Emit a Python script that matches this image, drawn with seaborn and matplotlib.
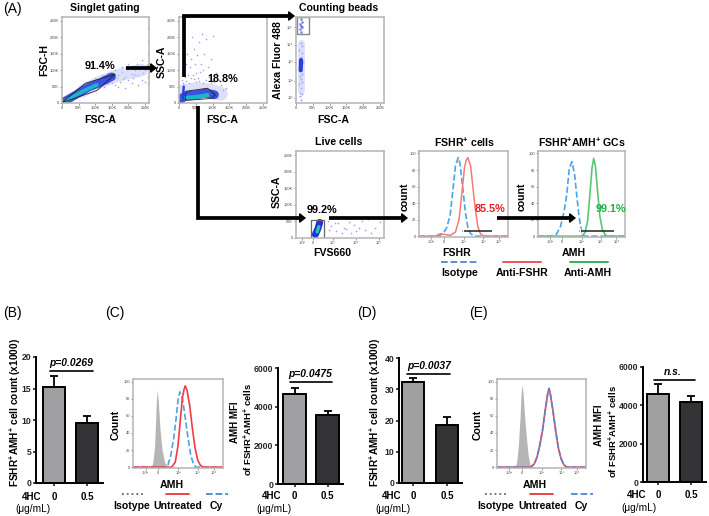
import matplotlib
matplotlib.use("Agg")
import matplotlib.pyplot as plt
import seaborn as sns

sns.set_style("white")
plt.rcParams['font.family'] = ['Liberation Sans', 'DejaVu Sans']
plt.rcParams['mathtext.fontset'] = 'custom'
plt.rcParams['mathtext.rm'] = 'Liberation Sans:bold'
plt.rcParams['mathtext.default'] = 'rm'

W, H = 709, 516
fig = plt.figure(figsize=(W / 100, H / 100), dpi=100, facecolor='white')

# ---------- data ----------
groups = ['0', '0.5']
b_vals, b_tops = [15.3, 9.5], [17.0, 10.7]
c_vals, c_tops = [4650, 3550], [4980, 3800]
d_vals, d_tops = [32.2, 18.5], [33.5, 21.2]
e_vals, e_tops = [4580, 4180], [5100, 4500]

# histogram curves (x: % of axis width, y: % of max)
fshr_iso_x = [0, 22, 27, 31, 35, 38, 41, 44, 46, 49, 52, 55, 58, 62, 100]
fshr_iso_y = [0, 0, 3, 10, 25, 55, 85, 95, 88, 60, 30, 10, 3, 0, 0]
fshr_anti_x = [0, 18, 24, 29, 35, 41, 45, 48, 51, 53, 55, 58, 60, 63, 66, 69, 73, 100]
fshr_anti_y = [0, 0, 3, 2, 1, 5, 20, 50, 82, 92, 95, 85, 65, 35, 12, 3, 0, 0]
amh_iso_x = [0, 14, 21, 26, 30, 33, 36, 39, 42, 44, 47, 50, 53, 100]
amh_iso_y = [0, 0, 2, 12, 30, 50, 82, 90, 75, 55, 25, 6, 0, 0]
amh_anti_x = [0, 50, 54, 57, 60, 62, 64, 66, 68, 71, 74, 77, 80, 100]
amh_anti_y = [0, 0, 4, 18, 55, 82, 94, 85, 60, 25, 8, 2, 0, 0]

c_iso_x = [0, 20, 22, 24, 25, 26, 27, 28, 30, 32, 35, 38, 100]
c_iso_y = [0, 0, 5, 25, 50, 78, 90, 78, 45, 22, 6, 0, 0]
c_cy_x = [0, 36, 39, 42, 45, 48, 50, 52, 55, 58, 61, 64, 67, 70, 100]
c_cy_y = [0, 0, 3, 14, 32, 58, 78, 88, 80, 58, 35, 15, 4, 0, 0]
c_unt_x = [0, 43, 47, 50, 53, 55, 57, 58, 60, 63, 66, 69, 72, 75, 78, 100]
c_unt_y = [0, 0, 6, 25, 60, 82, 92, 95, 90, 72, 45, 22, 8, 2, 0, 0]
e_iso_x = [0, 20, 22, 24, 26, 27, 28, 29, 31, 33, 35, 37, 40, 100]
e_iso_y = [0, 0, 5, 25, 60, 85, 96, 90, 60, 35, 14, 3, 0, 0]
e_unt_x = [0, 38, 42, 45, 48, 51, 54, 57, 58.5, 60, 63, 66, 69, 72, 75, 78, 100]
e_unt_y = [0, 0, 4, 12, 25, 42, 65, 86, 92, 85, 65, 42, 22, 10, 3, 0, 0]

# flow plots: sparse events and dense centre lines
s1_x = [95, 110, 125, 130, 140, 150, 155, 160, 165, 170, 175, 180, 185, 190, 195, 200, 205, 210, 215,
        220, 225, 230, 235, 240, 245, 250, 255, 258, 100, 120, 140, 160, 180, 200, 220, 240, 170, 190,
        210, 230, 250, 258, 258, 258, 258, 258]
s1_y = [45, 55, 50, 78, 60, 60, 90, 55, 75, 85, 65, 95, 72, 80, 105, 70, 110, 88, 75, 100, 120, 85,
        105, 130, 90, 100, 115, 80, 75, 85, 92, 100, 110, 118, 85, 70, 50, 45, 60, 55, 65, 150, 190,
        230, 120, 60]
s1_haze_x = [60, 110, 170, 240]
s1_haze_y = [35, 62, 85, 100]
s1_line_x = [2, 40, 80, 115, 150]
s1_line_y = [2, 24, 48, 62, 80]
s1_core_x = [2, 35, 75, 105]
s1_core_y = [2, 20, 42, 55]
s2_x = [10, 15, 20, 25, 28, 32, 35, 40, 45, 48, 52, 55, 60, 65, 68, 72, 75, 80, 85, 90, 95, 100,
        105, 110, 120, 125, 130, 140, 35, 50, 60, 70, 30, 42, 58, 22, 18, 62, 45, 80, 95, 115, 8, 12]
s2_y = [70, 95, 120, 150, 85, 110, 135, 200, 165, 120, 90, 145, 185, 120, 210, 100, 150, 195, 110,
        80, 135, 205, 65, 90, 70, 55, 40, 45, 75, 65, 68, 60, 60, 85, 75, 68, 78, 95, 72, 70, 62, 30, 90, 62]
s2_haze_x = [8, 50, 95, 125]
s2_haze_y = [35, 42, 38, 28]
s2_line_x = [5, 20, 50, 80, 105]
s2_line_y = [12, 22, 25, 30, 25]
s2_core_x = [20, 50, 85]
s2_core_y = [16, 18, 24]
s3_x = [8, 10, 12, 14, 16, 18, 20, 12, 15, 17, 9, 13, 16, 19, 11, 14, 18, 15, 12, 17]
s3_y = [50, 62, 40, 28, 18, 34, 48, 8, 70, 58, 22, 12, 4, 66, 31, 54, 11, 42, 46, 24]
s3_haze_x = [14, 14]
s3_haze_y = [15, 70]
s3_line_x = [14, 15]
s3_line_y = [38, 50]
s3_top_x = [13, 15, 17, 14, 16, 12, 18]
s3_top_y = [86, 90, 94, 82, 98, 92, 88]
s4_x = [36, 40, 45, 48, 55, 60, 62, 66, 68, 72, 75, 78, 82, 85, 90, 95, 38, 44, 52, 57]
s4_y = [20, 14, 8, 17, 12, 18, 6, 15, 8, 12, 19, 9, 22, 6, 12, 18, 9, 17, 6, 10]
s4_line_x = [22, 25, 27]
s4_line_y = [4, 11, 18]
s4_core_x = [24, 26]
s4_core_y = [7, 13]

# ---------- helpers ----------
def ax_px(x0, y0, x1, y1, **kw):
    return fig.add_axes([x0 / W, 1 - y1 / H, (x1 - x0) / W, (y1 - y0) / H], **kw)

def style_box(ax, xt, xl, yt, yl):
    ax.set_xticks(xt, xl)
    ax.set_yticks(yt, yl)
    ax.tick_params(length=1.5, width=0.4, labelsize=2.8, pad=0.6, colors='#444444', left=True, bottom=True)
    for s in ax.spines.values():
        s.set_color('#b4b4b4')
        s.set_linewidth(1.1)
    ax.set_xlabel('')
    ax.set_ylabel('')

def line(ax, x, y, **kw):
    sns.lineplot(x=x, y=y, sort=False, estimator=None, ax=ax, legend=False, **kw)

def dots(ax, x, y, color='#5a64e6', s=1.3):
    sns.scatterplot(x=x, y=y, ax=ax, color=color, s=s, linewidth=0, alpha=0.6, legend=False)

lin_t = [0, 50, 100, 150, 200, 250]
lin_l = ['0', '50K', '100K', '150K', '200K', '250K']
log_t = [14, 28, 50, 72, 90]
log_l = ['-10²', '0', '10²', '10³', '10⁴']

def flow(box, hx, hy, hw, sx, sy, lx, ly, cx, cy, w1=5, w2=2.2):
    ax = ax_px(*box)
    line(ax, hx, hy, color='#b4bbf4', lw=hw, alpha=0.45)
    dots(ax, sx, sy)
    line(ax, lx, ly, color='#2a40e0', lw=w1, alpha=0.9)
    line(ax, cx, cy, color='#18b8c8', lw=w2)
    ax.set_xlim(0, 262)
    ax.set_ylim(0, 262)
    style_box(ax, lin_t, lin_l, lin_t, lin_l)
    return ax

# ---------- flow panels ----------
a1 = flow((62, 17, 149, 103), s1_haze_x, s1_haze_y, 9, s1_x, s1_y, s1_line_x, s1_line_y, s1_core_x, s1_core_y, 6, 2.6)
line(a1, s1_core_x[:1] + [70, 160, 105, 2], [3, 60, 88, 38, 2], color='#222222', lw=0.6)
a2 = flow((179, 17, 267, 103), s2_haze_x, s2_haze_y, 10, s2_x, s2_y, s2_line_x, s2_line_y, s2_core_x, s2_core_y, 6.5, 3)
line(a2, [18, 22, 85, 108, 98, 22, 18], [12, 36, 45, 25, 14, 8, 12], color='#222222', lw=0.6)
line(a2, [12, 14], [12, 50], color='#2a3fe0', lw=1.8)

a3 = ax_px(296, 17, 384, 103)
line(a3, s3_haze_x, s3_haze_y, color='#b4bbf4', lw=5, alpha=0.45)
dots(a3, s3_x, s3_y, s=2)
dots(a3, s3_top_x, s3_top_y, color='#1f35d8', s=3.5)
line(a3, s3_line_x, s3_line_y, color='#2a3fe0', lw=3)
a3.set_xlim(0, 262)
a3.set_ylim(0, 100)
style_box(a3, lin_t, lin_l, [6, 26, 48, 68, 88], ['10¹', '10²', '10³', '10⁴', '10⁵'])
line(a3, [2, 38, 38, 2, 2], [80, 80, 100, 100, 80], color='#888888', lw=1)

a4 = ax_px(296, 151, 384, 238)
dots(a4, s4_x, s4_y, s=1.5)
line(a4, s4_line_x, s4_line_y, color='#1f35d8', lw=5)
line(a4, s4_core_x, s4_core_y, color='#1fc8a8', lw=2.4)
a4.set_xlim(0, 100)
a4.set_ylim(0, 100)
style_box(a4, [7, 19, 42, 68, 94], ['-10³', '0', '10³', '10⁴', '10⁵'],
          [0, 19, 38, 57, 76, 95], lin_l)
line(a4, [17, 32, 32, 17, 17], [0, 0, 21, 21, 0], color='#666666', lw=0.9)

pct_t = [0, 20, 40, 60, 80, 100]
pct_l = ['0', '20', '40', '60', '80', '100']

def hist_box(box, top=103):
    ax = ax_px(*box)
    ax.set_xlim(0, 100)
    ax.set_ylim(-1, top)
    style_box(ax, log_t, log_l, pct_t, pct_l)
    return ax

h1 = hist_box((419, 151, 508, 237))
line(h1, fshr_iso_x, fshr_iso_y, color='#4da3ea', lw=1.2, linestyle='--')
line(h1, fshr_anti_x, fshr_anti_y, color='#f47a7a', lw=1.1)
line(h1, [49, 82], [6, 6], color='#222222', lw=1.1, marker='|', markersize=4)

h2 = hist_box((538, 151, 625, 237))
line(h2, amh_iso_x, amh_iso_y, color='#4da3ea', lw=1.2, linestyle='--')
line(h2, amh_anti_x, amh_anti_y, color='#58c878', lw=1.2)
line(h2, [48, 87], [6, 6], color='#222222', lw=1.1, marker='|', markersize=4)

h3 = hist_box((133, 379, 223, 468))
h3.fill_between(c_iso_x, c_iso_y, color='#b5b5b5', lw=0)
line(h3, c_cy_x, c_cy_y, color='#4da3ea', lw=1.2, linestyle='--')
line(h3, c_unt_x, c_unt_y, color='#f03c46', lw=1.2)

h4 = hist_box((497, 379, 586, 468))
h4.fill_between(e_iso_x, e_iso_y, color='#b5b5b5', lw=0)
line(h4, e_unt_x, e_unt_y, color='#f2555f', lw=1.3)
line(h4, e_unt_x, e_unt_y, color='#4d86d8', lw=1.1, linestyle='--')

# ---------- bar panels ----------
def bars(box, c0, sp, vals, tops, ymax, yticks):
    ax = ax_px(*box)
    sns.barplot(x=groups, y=vals, hue=groups, palette=['#a0a0a2', '#333335'], width=0.67,
                edgecolor='black', linewidth=1.4, ax=ax, legend=False, dodge=False)
    for i, (v, t) in enumerate(zip(vals, tops)):
        ax.errorbar(i, v, yerr=[[0], [t - v]], color='black', capsize=3.2, capthick=1.3, elinewidth=1.3)
    ax.set_xlim((box[0] - c0) / sp, (box[2] - c0) / sp)
    ax.set_ylim(0, ymax)
    ax.set_yticks(yticks)
    ax.set_xticks([0, 1], ['', ''])
    ax.tick_params(left=True, bottom=True, length=2.5, width=1.2, pad=1)
    for t in ax.get_yticklabels():
        t.set_fontsize(6.2)
        t.set_fontweight('bold')
    sns.despine(ax=ax)
    for s in ('left', 'bottom'):
        ax.spines[s].set_linewidth(1.4)
        ax.spines[s].set_color('black')
    ax.patch.set_alpha(0)
    ax.set_ylabel('')
    return ax

bars((36, 357, 103, 483), 54, 33, b_vals, b_tops, 20, [0, 5, 10, 15, 20])
bars((278, 368, 343, 484), 294.5, 33, c_vals, c_tops, 6000, [0, 2000, 4000, 6000])
bars((399, 358, 462, 483), 413, 34, d_vals, d_tops, 40, [0, 10, 20, 30, 40])
bars((643, 367, 706, 482), 658, 33, e_vals, e_tops, 6000, [0, 2000, 4000, 6000])

# ---------- overlay: text and arrows in pixel units ----------
ov = fig.add_axes([0, 0, 1, 1], zorder=10)
ov.set_xlim(0, W)
ov.set_ylim(H, 0)
ov.axis('off')

def T(x, y, s, size=7.6, weight='bold', color='black', rot=0, style='normal', ha='center'):
    ov.text(x, y, s, fontsize=size, fontweight=weight, color=color, rotation=rot, fontstyle=style,
            ha=ha, va='center')

def arrow(pts):
    xs = [p[0] for p in pts]
    ys = [p[1] for p in pts]
    ov.plot(xs[:-1] + [xs[-1] - 3], ys, color='black', lw=2.7, solid_joinstyle='miter', solid_capstyle='butt')
    ov.annotate('', xy=pts[-1], xytext=(pts[-1][0] - 6, pts[-1][1]),
                arrowprops=dict(arrowstyle='-|>,head_length=0.35,head_width=0.28', color='black', lw=1.2, shrinkA=0, shrinkB=0))

arrow([(126, 68), (157, 68)])
arrow([(184, 77), (184, 16), (295, 16)])
arrow([(198, 106), (198, 218), (306, 218)])
arrow([(329, 218), (408, 218)])
arrow([(497, 218), (576, 218)])

for x, y, s in [(3, 9, '(A)'), (3, 313, '(B)'), (105, 313, '(C)'), (357, 313, '(D)'), (469, 313, '(E)')]:
    T(x, y, s, size=10, weight='normal', ha='left')

T(105, 8, 'Singlet gating')
T(339, 8, 'Counting beads')
T(44, 60, 'FSC-H', rot=90)
T(100, 120, 'FSC-A')
T(100, 66, '91.4%', size=7.8)
T(162, 62, 'SSC-A', rot=90)
T(223, 79, '18.8%', size=7.8)
T(222, 120, 'FSC-A')
T(278, 60, 'Alexa Fluor 488', rot=90)
T(333, 120, 'FSC-A')

T(339, 142, 'Live cells')
T(465, 142, 'FSHR$^{+}$ cells')
T(582, 142, 'FSHR$^{+}$AMH$^{+}$ GCs')
T(277, 192, 'SSC-A', rot=90)
T(322, 210, '99.2%', size=7.8)
T(332, 253, 'FVS660')
T(405, 197, 'count', rot=90)
T(522, 197, 'count', rot=90)
T(490, 209, '85.5%', size=7.8, color='#f01c1c')
T(611, 209, '99.1%', size=7.8, color='#22b04a')
T(457, 253, 'FSHR')
T(574, 253, 'AMH')
ov.plot([441, 479], [262, 262], color='#4d86d8', lw=1.3, linestyle='--')
ov.plot([503, 541], [262, 262], color='#f0505a', lw=1.4)
ov.plot([570, 608], [262, 262], color='#35b060', lw=1.4)
T(460, 273, 'Isotype')
T(522, 273, 'Anti-FSHR')
T(588, 273, 'Anti-AMH')

ylab = 'FSHR$^{+}$AMH$^{+}$ cell count (x1000)'
ylab2 = 'of FSHR$^{+}$AMH$^{+}$ cells'
T(15, 413, ylab, rot=90, size=7.3)
T(375, 413, ylab, rot=90, size=7.3)
T(235, 422, 'AMH MFI', rot=90, size=7)
T(248, 430, ylab2, rot=90, size=6.8)
T(599, 425, 'AMH MFI', rot=90, size=7)
T(613, 432, ylab2, rot=90, size=6.8)

for x, y, s in [(116, 425, 'Count'), (478, 425, 'Count')]:
    T(x, y, s, rot=90)
T(172, 485, 'AMH')
T(535, 485, 'AMH')
for xs, yv, c, ls in [((122, 143), 494, '#666666', ':'), ((166, 189), 494, '#f0323c', '-'), ((206, 228), 494, '#4d86d8', '--'),
                      ((485, 507), 494, '#666666', ':'), ((530, 553), 494, '#f0323c', '-'), ((571, 593), 494, '#4d86d8', '--')]:
    ov.plot(xs, [yv, yv], color=c, lw=1.3, linestyle=ls)
for x, s in [(132, 'Isotype'), (178, 'Untreated'), (216, 'Cy'), (496, 'Isotype'), (543, 'Untreated'), (581, 'Cy')]:
    T(x, 506, s)

for x4, x0, x5, xu, y4, yu in [(32, 54, 87, 33, 497, 509), (272, 294, 327, 274, 496, 509),
                               (392, 413, 447, 393, 496, 509), (637, 658, 691, 639, 495, 508)]:
    T(x4, y4, '4HC', size=7)
    T(x0, y4, groups[0], size=7)
    T(x5, y4, groups[1], size=7)
    T(xu, yu, '(μg/mL)', size=7.3, weight='normal')

for tx, ty, s, x0, x1, ly in [(71, 363, 'p=0.0269', 50, 93, 371), (310, 374, 'p=0.0475', 290, 332, 382),
                              (429, 366, 'p=0.0037', 407, 450, 374), (673, 372, 'n.s.', 654, 695, 380)]:
    T(tx, ty, s, style='italic', size=7.4)
    ov.plot([x0, x1], [ly, ly], color='black', lw=1.2)

fig.savefig('out.png', dpi=100)
